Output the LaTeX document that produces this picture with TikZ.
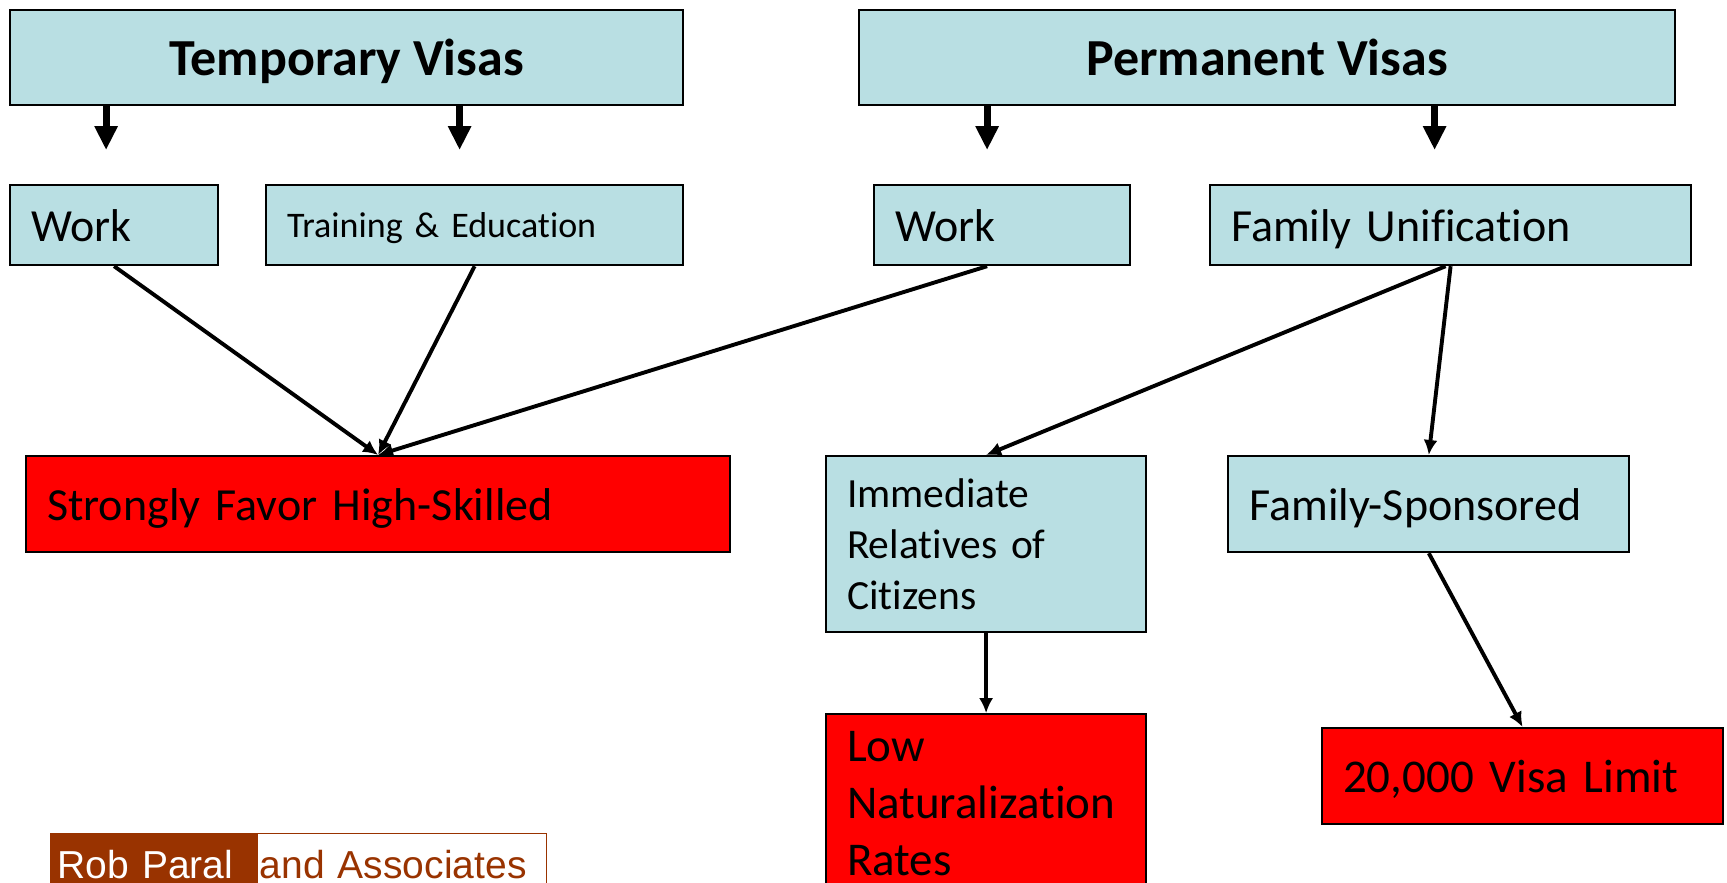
\documentclass[tikz,border=0pt]{standalone}
\usepackage{fontspec}
\setmainfont{Carlito}[Ligatures=NoCommon]
\newfontfamily\logofont{Liberation Sans}
\usetikzlibrary{positioning, arrows.meta}
\definecolor{visablue}{RGB}{185,223,227}
\definecolor{paralbrown}{RGB}{153,51,0}
\tikzset{
    cell/.style = {rectangle, draw, line width=2.2pt, anchor=north west, inner xsep=21pt, inner ysep=0pt, align=left, font=\fontsize{46}{56}\selectfont}, % every box of the chart
    box/.style = {cell, fill=visablue, text depth=0pt},
    hot/.style = {cell, fill=red, text depth=0pt},
    head/.style = {box, align=center, font=\bfseries\fontsize{52}{62}\selectfont},
    fat/.style = {line width=7pt, -{Triangle[width=22pt, length=24pt]}, shorten >=34pt}, % short arrows under the two headers
    link/.style = {line width=3.9pt, -{Latex[width=14pt, length=15pt]}},
    logo/.style = {anchor=base west, inner ysep=0pt, align=left, text height=45pt, text depth=20pt, font=\logofont\fontsize{39}{47}\selectfont}
}
\begin{document}
\begin{tikzpicture}[x=1pt, y=-1pt]
    \useasboundingbox (0,0) rectangle (1727,883);
    % headers
    \node[head, minimum width=673pt, minimum height=95pt] (temp) at (9,9) {Temporary Visas};
    \node[head, minimum width=816pt, minimum height=95pt] (perm) at (858,9) {Permanent Visas};
    % second row
    \node[box, text width=166pt, minimum height=80pt] (work1) at (9,184) {Work};
    \node[box, text width=375pt, minimum height=80pt, font=\fontsize{36}{44}\selectfont] (training) at (265,184) {Training \& Education};
    \node[box, text width=214pt, minimum height=80pt] (work2) at (873,184) {Work};
    \node[box, text width=439pt, minimum height=80pt] (famunif) at (1209,184) {Family Unification};
    % third row
    \node[hot, text width=662pt, minimum height=96pt] (strongly) at (25,455) {Strongly Favor High-Skilled};
    \node[cell, fill=visablue, text width=278pt, minimum height=176pt, font=\fontsize{41.5}{51}\selectfont] (immediate) at (825,455) {Immediate\\Relatives of\\Citizens};
    \node[box, text width=359pt, minimum height=96pt] (famspon) [right=80pt of immediate.north east, anchor=north west] {Family-Sponsored};
    % bottom row
    \node[cell, fill=red, text width=278pt, minimum height=178pt, font=\fontsize{47}{57}\selectfont] (lownat) [below=80pt of immediate] {Low\\Naturalization\\Rates};
    \node[hot, text width=359pt, minimum height=96pt, font=\fontsize{47}{56}\selectfont] (limit) at (1321,727) {20,000 Visa Limit};
    % logo
    \node[logo, fill=paralbrown, text=white, text width=191.5pt, inner xsep=8pt] (rob) at (49.5,878) {Rob Paral};
    \node[logo, draw=paralbrown, line width=1pt, fill=white, text=paralbrown, text width=285pt, inner xsep=2pt] (assoc) [right=0pt of rob] {and Associates};
    % arrows
    \draw[fat] ([xshift=-8pt]work1.north |- temp.south) -- ([xshift=-8pt]work1.north);
    \draw[fat] ([xshift=-15pt]training.north |- temp.south) -- ([xshift=-15pt]training.north);
    \draw[fat] ([xshift=-15pt]work2.north |- perm.south) -- ([xshift=-15pt]work2.north);
    \draw[fat] ([xshift=-16pt]famunif.north |- perm.south) -- ([xshift=-16pt]famunif.north);
    \draw[link] (work1.south) -- (strongly.north);
    \draw[link] (training.south) -- (strongly.north);
    \draw[link] ([xshift=-15pt]work2.south) -- (strongly.north);
    \draw[link] ([xshift=-5pt]famunif.south) -- (immediate.north);
    \draw[link] (famunif.south) -- (famspon.north);
    \draw[link] (immediate.south) -- (lownat.north);
    \draw[link] (famspon.south) -- (limit.north);
\end{tikzpicture}
\end{document}
